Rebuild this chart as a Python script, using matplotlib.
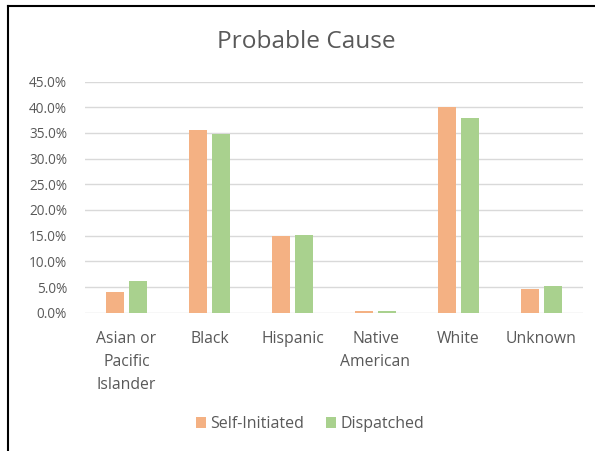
import matplotlib
matplotlib.use("Agg")
import matplotlib.pyplot as plt
import numpy as np
from matplotlib.ticker import FuncFormatter, MultipleLocator

categories = ["Asian or\nPacific\nIslander", "Black", "Hispanic", "Native\nAmerican", "White", "Unknown"]
self_initiated = [4.0, 35.5, 14.9, 0.3, 40.1, 4.6]
dispatched = [6.1, 34.7, 15.2, 0.3, 37.9, 5.2]
series_names = ["Self-Initiated", "Dispatched"]
colors = ["#F4B183", "#A9D18E"]
text_color = "#595959"

plt.rcParams['font.family'] = ['Open Sans', 'DejaVu Sans']

W, H = 595, 451
fig = plt.figure(figsize=(W/100, H/100), dpi=100)
ax = fig.add_axes([85/W, 1 - 312.7/H, (583-85)/W, (312.7-81.6)/H])

x = np.arange(len(categories))
bw = 0.225
off = 0.14
ax.bar(x - off, self_initiated, bw, color=colors[0], label=series_names[0], zorder=3)
ax.bar(x + off, dispatched, bw, color=colors[1], label=series_names[1], zorder=3)

ax.set_xlim(-0.5, len(categories) - 0.5)
ax.set_ylim(0, 45)
ax.yaxis.set_major_locator(MultipleLocator(5))
ax.yaxis.set_major_formatter(FuncFormatter(lambda v, p: f"{v:.1f}%"))
ax.grid(axis='y', color='#D9D9D9', linewidth=1, zorder=0)
for s in ax.spines.values():
    s.set_visible(False)
ax.tick_params(axis='both', length=0, colors=text_color)
ax.tick_params(axis='y', pad=13, labelsize=9.8)
ax.tick_params(axis='x', pad=13.5, labelsize=11.3)
ax.set_xticks(x)
ax.set_xticklabels(categories, linespacing=1.55, va='top')

fig.text(306.5/W, 1 - 41.5/H, "Probable Cause", ha='center', va='center', fontsize=17.6,
         color=text_color)

leg = fig.legend(loc='center', bbox_to_anchor=(310/W, 1 - 424/H), ncol=2, frameon=False,
                 fontsize=11.5, handlelength=0.62, handleheight=0.62, handletextpad=0.3,
                 columnspacing=1.35, labelcolor=text_color)

# outer border (top and left visible)
fig.add_artist(plt.Line2D([8/W, 8/W], [0, 1 - 5.5/H], transform=fig.transFigure, color='black', linewidth=1.5))
fig.add_artist(plt.Line2D([8/W, 1], [1 - 5.5/H, 1 - 5.5/H], transform=fig.transFigure, color='black', linewidth=1.5))

fig.savefig("out.png", dpi=100)
